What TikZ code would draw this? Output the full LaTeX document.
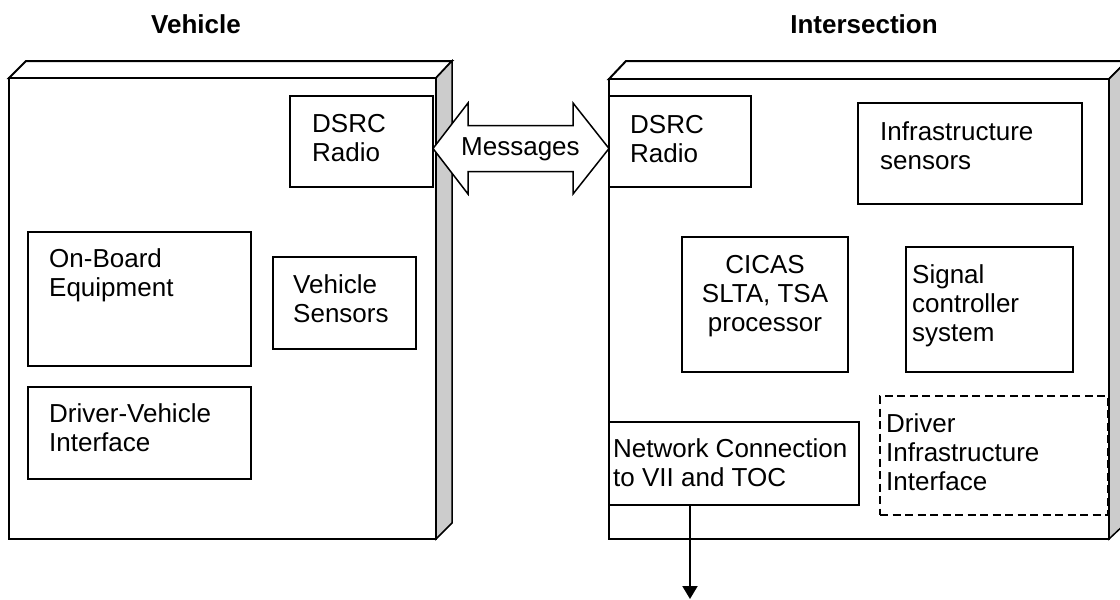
\documentclass[tikz,border=0pt]{standalone}
\usepackage{fontspec}
\setmainfont{Liberation Sans}
\usetikzlibrary{arrows.meta}
\definecolor{sidegray}{HTML}{CCCCCC}
\newcommand{\fsz}{\fontsize{26}{29}\selectfont}
\begin{document}
\begin{tikzpicture}[x=1pt,y=-1pt,
  topface/.style={draw=black, line width=2pt, fill=white, line join=miter},
  sideface/.style={draw=black, line width=1.5pt, fill=sidegray},
  front/.style={draw=black, line width=2pt, fill=white, rectangle, anchor=north west, inner sep=0pt, outer sep=0pt},
  inbox/.style={draw=black, line width=1.5pt, fill=white, rectangle, anchor=north west, inner sep=0pt, outer sep=0pt},
  dashbox/.style={inbox, dash pattern=on 8pt off 4.5pt},
  lbl/.style={anchor=base west, inner sep=0pt, font=\fsz},
  clbl/.style={anchor=base, inner sep=0pt, font=\fsz},
  ttl/.style={anchor=base, inner sep=0pt, font=\fsz\bfseries},
  msgarrow/.style={draw=black, line width=1.5pt, fill=white, line join=miter},
  outarrow/.style={draw=black, line width=2pt, -{Triangle[width=15pt,length=13pt]}}
]
\useasboundingbox (0,0) rectangle (1120,600);
\clip (0,0) rectangle (1120,600);

% titles
\node[ttl] (tveh) at (196,33) {Vehicle};
\node[ttl] (tint) at (864,33) {Intersection};

% ---------- Vehicle block ----------
\draw[topface] (9,78) -- (26,61) -- (452,61) -- (436,78) -- cycle;
\draw[sideface] (436,78) -- (452,61) -- (452,523) -- (436,539) -- cycle;
\node[front, minimum width=427pt, minimum height=461pt] (veh) at (9,78) {};

\node[inbox, minimum width=143pt, minimum height=91pt] (ldsrc) at (290,96) {};
\node[lbl] (ldsrct) at (312,132) {\parbox[t]{200pt}{\raggedright DSRC\\Radio}};

\node[inbox, minimum width=223pt, minimum height=134pt] (obe) at (28,232) {};
\node[lbl] (obet) at (49,267) {\parbox[t]{300pt}{\raggedright On-Board\\Equipment}};

\node[inbox, minimum width=143pt, minimum height=92pt] (vsens) at (273,257) {};
\node[lbl] (vsenst) at (293,293) {\parbox[t]{200pt}{\raggedright Vehicle\\Sensors}};

\node[inbox, minimum width=223pt, minimum height=92pt] (dvi) at (28,387) {};
\node[lbl] (dvit) at (49,422) {\parbox[t]{300pt}{\raggedright Driver-Vehicle\\Interface}};

% ---------- Intersection block ----------
\draw[topface] (609,79) -- (626,61) -- (1127,61) -- (1109,79) -- cycle;
\draw[sideface] (1109,79) -- (1127,61) -- (1127,522) -- (1109,539) -- cycle;
\node[front, minimum width=500pt, minimum height=460pt] (inter) at (609,79) {};

\node[inbox, minimum width=142pt, minimum height=91pt] (rdsrc) at (609,96) {};
\node[lbl] (rdsrct) at (630,133) {\parbox[t]{200pt}{\raggedright DSRC\\Radio}};

\node[inbox, minimum width=224pt, minimum height=101pt] (infra) at (858,103) {};
\node[lbl] (infrat) at (880,140) {\parbox[t]{300pt}{\raggedright Infrastructure\\sensors}};

\node[inbox, minimum width=166pt, minimum height=135pt] (cicas) at (682,237) {};
\node[clbl] (cicast) at (765,273) {\parbox[t]{200pt}{\centering CICAS\\SLTA, TSA\\processor}};

\node[inbox, minimum width=167pt, minimum height=125pt] (sigc) at (906,247) {};
\node[lbl] (sigct) at (912,283) {\parbox[t]{200pt}{\raggedright Signal\\controller\\system}};

\node[dashbox, minimum width=228pt, minimum height=119pt] (dii) at (880,396) {};
\node[lbl] (diit) at (886,432) {\parbox[t]{300pt}{\raggedright Driver\\Infrastructure\\Interface}};

\node[inbox, minimum width=250pt, minimum height=83pt] (net) at (609,422) {};
\node[lbl] (nett) at (613,457) {\parbox[t]{300pt}{\raggedright Network Connection\\to VII and TOC}};

% ---------- Messages double arrow ----------
\draw[msgarrow] (ldsrc.east |- 0,148.5) -- (468,103) -- (468,125.5) -- (573,125.5) -- (573,103)
  -- (rdsrc.west |- 0,148.5) -- (573,194) -- (573,171.5) -- (468,171.5) -- (468,194) -- cycle;
\node[lbl] (msg) at (461,155) {Messages};

% ---------- network output ----------
\coordinate (netout) at (690,599);
\draw[outarrow] (net.south -| netout) -- (netout);
\end{tikzpicture}
\end{document}
